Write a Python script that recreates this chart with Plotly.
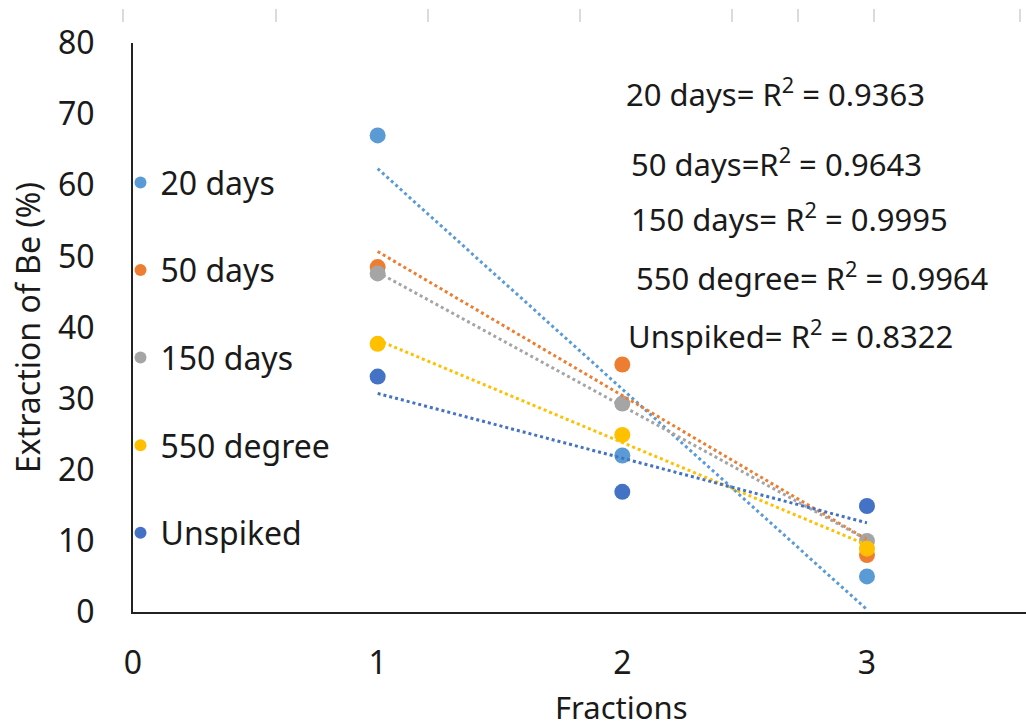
import numpy as np
import plotly.graph_objects as go

fractions = [1, 2, 3]
series_names = ["20 days", "50 days", "150 days", "550 degree", "Unspiked"]
days20 = [67.0, 22.0, 5.0]
days50 = [48.5, 34.8, 8.0]
days150 = [47.6, 29.3, 10.0]
deg550 = [37.7, 24.9, 8.9]
unspiked = [33.1, 16.9, 14.9]
r2_labels = ["20 days= R<sup>2</sup> = 0.9363",
             "50 days=R<sup>2</sup> = 0.9643",
             "150 days= R<sup>2</sup> = 0.9995",
             "550 degree= R<sup>2</sup> = 0.9964",
             "Unspiked= R<sup>2</sup> = 0.8322"]
x_title = "Fractions"
y_title = "Extraction of Be (%)"

colors = ["#5B9BD5", "#ED7D31", "#A5A5A5", "#FFC000", "#4472C4"]
FONT = "Noto Sans"
TXT = "#1a1a1a"
FS = 32
all_series = [days20, days50, days150, deg550, unspiked]

fig = go.Figure()
xs = np.array(fractions, dtype=float)
for i, (name, ys) in enumerate(zip(series_names, all_series)):
    fig.add_trace(go.Scatter(x=fractions, y=ys, mode="markers", name=name,
                             legendgroup=name,
                             marker=dict(color=colors[i], size=16)))
for i, (name, ys) in enumerate(zip(series_names, all_series)):
    m, b = np.polyfit(xs, np.array(ys), 1)
    xt = [xs.min(), xs.max()]
    fig.add_trace(go.Scatter(x=xt, y=[m * v + b for v in xt], mode="lines",
                             showlegend=False, hoverinfo="skip",
                             line=dict(color=colors[i], width=3, dash="dot")))

ann_y = [92, 162, 217, 276, 334]
ann_x = [624, 629, 629, 634, 626]
ann_fs = [31, 31, 31, 31, 31]
for txt, px, py, fs in zip(r2_labels, ann_x, ann_y, ann_fs):
    fig.add_annotation(text=txt, xref="paper", yref="paper",
                       x=(px - 133) / 893, y=(612 - py) / 569,
                       xanchor="left", yanchor="middle", showarrow=False,
                       font=dict(family=FONT, size=fs, color=TXT))

# x-axis title (centred under the un-cropped plot area of the original)
fig.add_annotation(text=x_title, xref="paper", yref="paper",
                   x=(621 - 133) / 893, y=(612 - 707) / 569,
                   xanchor="center", yanchor="middle", showarrow=False,
                   font=dict(family=FONT, size=31, color=TXT))

# faint ruler ticks along the top edge of the picture
for px in [123, 276, 428, 580, 732, 798, 874, 1020]:
    fig.add_shape(type="line", xref="paper", yref="paper",
                  x0=(px - 133) / 893, x1=(px - 133) / 893,
                  y0=(612 - 9) / 569, y1=(612 - 22) / 569,
                  line=dict(color="#cfcfcf", width=1.5))

fig.update_layout(
    width=1026, height=727,
    margin=dict(l=133, r=0, t=43, b=115),
    paper_bgcolor="white", plot_bgcolor="white",
    showlegend=True,
    legend=dict(x=-0.014, y=0.803, xanchor="left", yanchor="top",
                font=dict(family=FONT, size=FS, color=TXT),
                tracegroupgap=43, bgcolor="rgba(0,0,0,0)",
                itemsizing="constant"),
    xaxis=dict(range=[0, 3.65], tickvals=[0, 1, 2, 3], showgrid=False,
               zeroline=False, showline=True, linecolor="#222", linewidth=2,
               ticks="", ticklabelstandoff=22,
               tickfont=dict(family=FONT, size=FS, color=TXT)),
    yaxis=dict(range=[0, 80], tickvals=list(range(0, 81, 10)), showgrid=False,
               zeroline=False, showline=True, linecolor="#222", linewidth=2,
               ticks="", ticklabelstandoff=30,
               tickfont=dict(family=FONT, size=FS, color=TXT),
               title=dict(text=y_title, standoff=8,
                          font=dict(family=FONT, size=32, color=TXT))),
)

fig.write_html("out.html")
